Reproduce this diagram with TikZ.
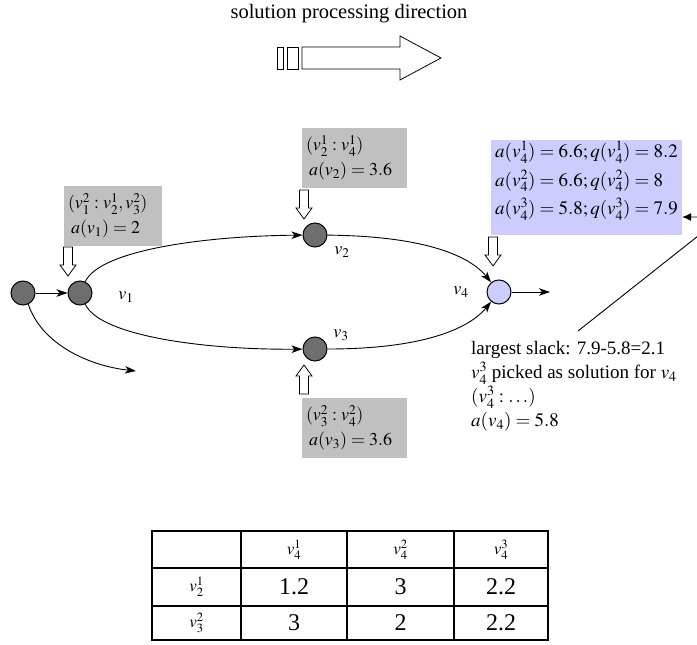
\documentclass[tikz,border=0pt]{standalone}
\usepackage{mathptmx}
\usepackage[no-math]{fontspec}
\setmainfont{Liberation Serif}
\usetikzlibrary{arrows.meta}

\definecolor{nodegray}{HTML}{6E6E6E}
\definecolor{boxgray}{HTML}{C0C0C0}
\definecolor{lav}{HTML}{CCCCFF}

\tikzset{
  vert/.style={circle, draw=black, line width=1pt, minimum size=24pt, inner sep=0pt},
  gnode/.style={vert, fill=nodegray},
  bnode/.style={vert, fill=lav},
  edge/.style={line width=0.9pt, -{Stealth[length=11pt,width=7.5pt,inset=3pt]}},
  vlabel/.style={font=\fontsize{18}{20}\selectfont},
  infobox/.style={fill=boxgray, inner sep=4pt, align=left, anchor=center,
                  font=\fontsize{18}{27}\selectfont},
  hollow/.style={draw=black, fill=white, line width=0.8pt},
  pics/downarrow/.style={code={
    \draw[hollow] (-4.5,0) -- (-4.5,18) -- (-8,18) -- (0,29) -- (8,18) -- (4.5,18) -- (4.5,0) -- cycle;}},
  note/.style={font=\fontsize{19}{24}\selectfont, align=left, anchor=north west, inner sep=0pt},
  cell/.style={font=\fontsize{24}{26}\selectfont, inner sep=0pt},
  head/.style={font=\fontsize{17}{18}\selectfont, inner sep=0pt},
}

\begin{document}
\begin{tikzpicture}[x=1pt, y=-1pt]
\useasboundingbox (0,0) rectangle (697,645);
\clip (0,0) rectangle (697,645);

% title and the direction arrow
\node[font=\fontsize{20.5}{24}\selectfont] (title) at (349,14) {solution processing direction};
\draw[hollow] (277,47) rectangle (283,69);
\draw[hollow] (287,47) rectangle (298,69);
\draw[hollow] (302,47) -- (400,47) -- (400,36) -- (441,58) -- (400,80) -- (400,69) -- (302,69) -- cycle;

% vertices
\node[gnode] (n0) at (23,293) {};
\node[gnode] (v1) at (80,293) {};
\node[gnode] (v2) at (315,235) {};
\node[gnode] (v3) at (315,349) {};
\node[bnode] (v4) at (499,292) {};

\node[vlabel] (l1) at (126,297) {$v_1$};
\node[vlabel] (l2) at (342,252) {$v_2$};
\node[vlabel] (l3) at (341,335) {$v_3$};
\node[vlabel] (l4) at (461,292) {$v_4$};

% free ends of the outgoing edges
\coordinate (e0) at (136,371);
\coordinate (e4) at (550,292);

% edges
\draw[edge] (n0) -- (v1);
\draw[edge] (n0.-65) .. controls (42,345) and (90,366) .. (e0);
\draw[edge] (v1) .. controls (100,250) and (205,236) .. (v2);
\draw[edge] (v1) .. controls (100,336) and (205,350) .. (v3);
\draw[edge] (v2) .. controls (420,236) and (468,254) .. (v4);
\draw[edge] (v3) .. controls (420,349) and (468,330) .. (v4);
\draw[edge] (v4) -- (e4);

% boxes with the partial solutions
\node[infobox, minimum width=98pt, minimum height=60pt, text width=90pt] (b1) at (113,216)
  {$(v_1^2 : v_2^1, v_3^2)$\\[-2pt]\hspace*{3pt}$a(v_1) = 2$};
\node[infobox, minimum width=105pt, minimum height=60pt, text width=97pt] (b2) at (354.5,158)
  {$(v_2^1 : v_4^1)$\\[-2pt]\hspace*{3pt}$a(v_2) = 3.6$};
\node[infobox, minimum width=105pt, minimum height=60pt, text width=97pt] (b3) at (354.5,428)
  {$(v_3^2 : v_4^2)$\\[-2pt]\hspace*{3pt}$a(v_3) = 3.6$};
\node[fill=lav, minimum width=191pt, minimum height=95pt, inner sep=0pt] (b4) at (586.5,187.5) {};
\node[align=left, anchor=north west, inner sep=0pt, font=\fontsize{19}{28.5}\selectfont] (t4) at (495,141)
  {$a(v_4^1) = 6.6; q(v_4^1) = 8.2$\\$a(v_4^2) = 6.6; q(v_4^2) = 8$\\$a(v_4^3) = 5.8; q(v_4^3) = 7.9$};

% hollow arrows from the boxes to the vertices
\pic at (68,247) {downarrow};
\pic at (304,190) {downarrow};
\pic at (493,237) {downarrow};
\pic[rotate=180] at (304,394) {downarrow};

% note on the chosen solution
\node[note] (note) at (471,341)
  {largest slack: 7.9-5.8=2.1\\
   $v_4^3$ picked as solution for $v_4$\\
   $(v_4^3 : \ldots)$\\
   $a(v_4) = 5.8$};
\coordinate (turn) at (722,217);
\draw[line width=0.9pt, -{Latex[length=9pt,width=8pt]}] (578,331) -- (turn) -- (turn -| b4.east);

% slack table
\draw[line width=1.2pt] (241,531) -- (241,640) (347,531) -- (347,640) (454,531) -- (454,640);
\draw[line width=1.2pt] (152,568) -- (548,568) (152,606) -- (548,606);
\draw[line width=2.6pt] (152,531) rectangle (548,640);

\node[head] (h1) at (294,549.5) {$v_4^1$};
\node[head] (h2) at (400.5,549.5) {$v_4^2$};
\node[head] (h3) at (501,549.5) {$v_4^3$};
\node[head] (r1) at (196.5,587) {$v_2^1$};
\node[head] (r2) at (196.5,623) {$v_3^2$};
\node[cell] (c11) at (294,587) {1.2};
\node[cell] (c12) at (400.5,587) {3};
\node[cell] (c13) at (501,587) {2.2};
\node[cell] (c21) at (294,623) {3};
\node[cell] (c22) at (400.5,623) {2};
\node[cell] (c23) at (501,623) {2.2};
\end{tikzpicture}
\end{document}
